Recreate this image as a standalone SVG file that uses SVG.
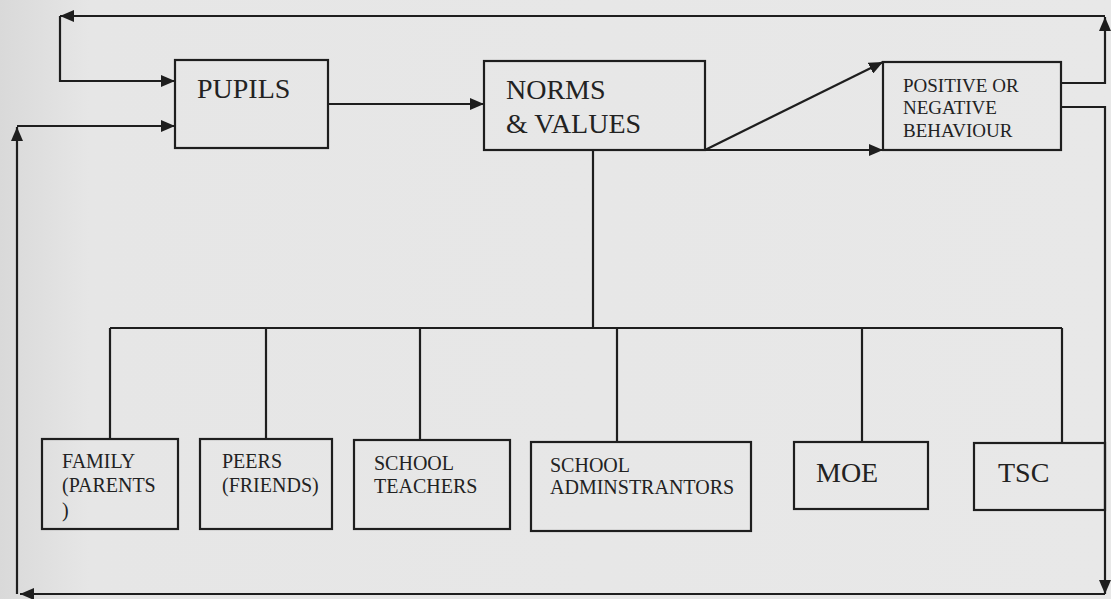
<svg xmlns="http://www.w3.org/2000/svg" width="1111" height="599" viewBox="0 0 1111 599">
<style>
.box{fill:none;stroke:#1e1e1e;stroke-width:2.2}
.ln{fill:none;stroke:#1e1e1e;stroke-width:2.2}
.arr{marker-end:url(#ah)}
text{font-family:'Liberation Serif','Times New Roman',serif;fill:#222}
.big{font-size:28px}
.mid{font-size:19px}
.sm{font-size:20px}
</style>
<defs>
<linearGradient id="bg" x1="0" y1="0" x2="1" y2="0">
<stop offset="0" stop-color="#d9d9d9"/>
<stop offset="0.08" stop-color="#e6e6e6"/>
<stop offset="1" stop-color="#e8e8e8"/>
</linearGradient>
<marker id="ah" viewBox="0 0 14 12" refX="14" refY="6" markerWidth="14" markerHeight="12" markerUnits="userSpaceOnUse" orient="auto">
<path d="M0,0 L14,6 L0,12 z" fill="#1e1e1e"/>
</marker>
</defs>
<rect width="1111" height="599" fill="url(#bg)"/>
<g id="connectors">
<line class="ln arr" x1="328" y1="104" x2="484" y2="104"/>
<line class="ln arr" x1="705" y1="150" x2="883" y2="62"/>
<line class="ln arr" x1="705" y1="150" x2="883" y2="150"/>
<polyline class="ln arr" points="1061,83 1105,83 1105,17"/>
<line class="ln arr" x1="1105" y1="16" x2="60" y2="16"/>
<polyline class="ln arr" points="60,16 60,81 175,81"/>
<polyline class="ln arr" points="1061,107 1105,107 1105,594"/>
<line class="ln arr" x1="1105" y1="594" x2="20" y2="594"/>
<line class="ln arr" x1="17" y1="594" x2="17" y2="127"/>
<polyline class="ln arr" points="17,126 175,126"/>
<line class="ln" x1="593" y1="150" x2="593" y2="328"/>
<line class="ln" x1="110" y1="328" x2="1062" y2="328"/>
<line class="ln" x1="110" y1="328" x2="110" y2="439"/>
<line class="ln" x1="266" y1="328" x2="266" y2="439"/>
<line class="ln" x1="420" y1="328" x2="420" y2="440"/>
<line class="ln" x1="617" y1="328" x2="617" y2="442"/>
<line class="ln" x1="862" y1="328" x2="862" y2="442"/>
<line class="ln" x1="1062" y1="328" x2="1062" y2="443"/>
</g>
<g id="pupils">
<rect class="box" x="175" y="60" width="153" height="88"/>
<text class="big" x="197" y="98">PUPILS</text>
</g>
<g id="norms">
<rect class="box" x="484" y="61" width="221" height="89"/>
<text class="big" x="506" y="99">NORMS</text>
<text class="big" x="506" y="133">&amp; VALUES</text>
</g>
<g id="behaviour">
<rect class="box" x="883" y="62" width="178" height="88"/>
<text class="mid" x="903" y="92">POSITIVE OR</text>
<text class="mid" x="903" y="114">NEGATIVE</text>
<text class="mid" x="903" y="137">BEHAVIOUR</text>
</g>
<g id="family">
<rect class="box" x="42" y="439" width="136" height="90"/>
<text class="sm" x="62" y="468">FAMILY</text>
<text class="sm" x="62" y="492">(PARENTS</text>
<text class="sm" x="62" y="517">)</text>
</g>
<g id="peers">
<rect class="box" x="200" y="439" width="132" height="90"/>
<text class="sm" x="222" y="468">PEERS</text>
<text class="sm" x="222" y="492">(FRIENDS)</text>
</g>
<g id="teachers">
<rect class="box" x="354" y="440" width="156" height="89"/>
<text class="sm" x="374" y="470">SCHOOL</text>
<text class="sm" x="374" y="493">TEACHERS</text>
</g>
<g id="administrators">
<rect class="box" x="531" y="442" width="220" height="89"/>
<text class="sm" x="550" y="472">SCHOOL</text>
<text class="sm" x="550" y="494">ADMINSTRANTORS</text>
</g>
<g id="moe">
<rect class="box" x="794" y="442" width="134" height="67"/>
<text class="big" x="816" y="482">MOE</text>
</g>
<g id="tsc">
<rect class="box" x="974" y="443" width="131" height="67"/>
<text class="big" x="998" y="482">TSC</text>
</g>
</svg>
